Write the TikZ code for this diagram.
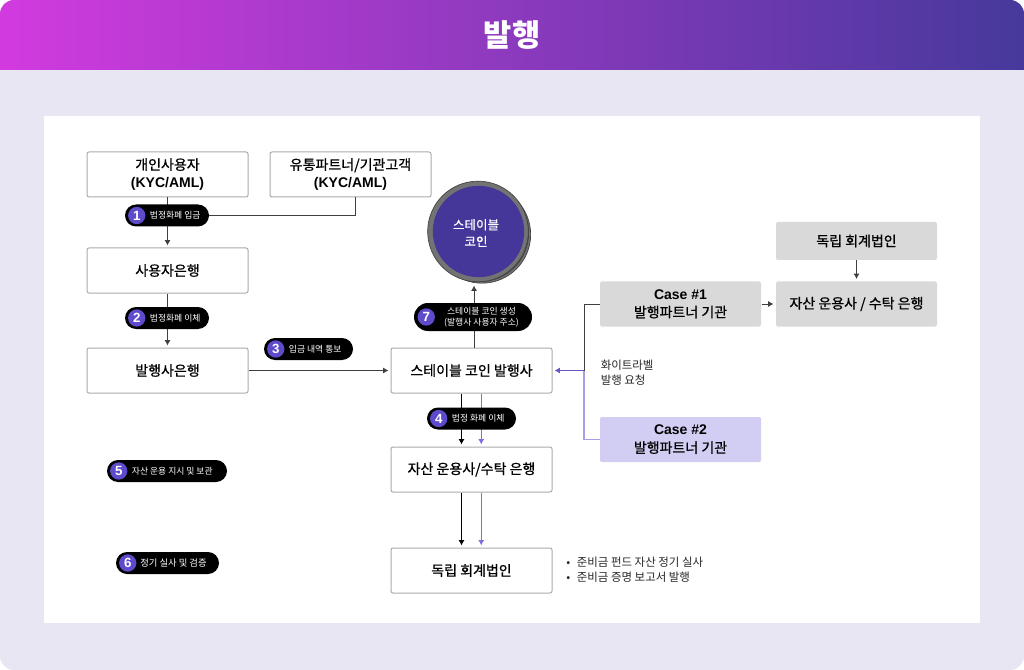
\documentclass[tikz,border=0pt]{standalone}
\usepackage{fontspec}
\setmainfont{Noto Sans CJK KR}
\newfontfamily\latinfont{Liberation Sans}
\usetikzlibrary{positioning,calc,arrows.meta}

\definecolor{panelbg}{HTML}{E8E6F3}
\definecolor{headl}{HTML}{D23ADF}
\definecolor{headm}{HTML}{8C35B6}
\definecolor{headr}{HTML}{46399C}
\definecolor{edge}{HTML}{ABABAB}
\definecolor{wire}{HTML}{3F3F3F}
\definecolor{violet}{HTML}{6A55C8}
\definecolor{lilac}{HTML}{A99EE6}
\definecolor{downline}{HTML}{7F6EE2}
\definecolor{casetwo}{HTML}{D2CDF2}
\definecolor{casegray}{HTML}{D9D9D9}
\definecolor{coinfill}{HTML}{453699}
\definecolor{numfill}{HTML}{5D4BCB}

\begin{document}
\begin{tikzpicture} [x=0.75pt, y=-0.75pt]
    \tikzstyle{box} = [draw=edge, line width=0.75pt, fill=white, rounded corners=1.5pt,
				minimum width=120.75pt, minimum height=33.75pt, inner sep=0pt,
				align=center, text=black, font=\fontsize{10.5}{13.5}\selectfont\addfontfeature{FakeBold=0.8}]
    \tikzstyle{graybox} = [box, draw=none, fill=casegray]
    \tikzstyle{pill} = [fill=black, rounded corners=8.25pt, minimum height=16.5pt, inner sep=0pt]
    \tikzstyle{num} = [circle, fill=numfill, text=white, minimum size=13pt, inner sep=0pt,
				font=\latinfont\fontsize{10}{10}\selectfont\bfseries]
    \tikzstyle{pilltext} = [text=white, inner sep=0pt, align=center,
				font=\fontsize{6.6}{8.2}\selectfont]
    \tikzstyle{note} = [inner sep=0pt, align=left, text=black!85,
				font=\fontsize{8.6}{11.25}\selectfont]
    \tikzstyle{disc} = [circle, draw=black!75, line width=0.5pt, fill=black!55, minimum size=73pt, inner sep=0pt]
    \tikzstyle{link} = [draw=wire, line width=0.75pt, -{Latex[length=4pt,width=4.5pt]}, shorten >=1.5pt]
    \tikzstyle{vlink} = [link, draw=downline, line width=0.9pt]

    \useasboundingbox (0,0) rectangle (1024,670);
    \fill[white] (0,0) rectangle (1024,670);
    \fill[panelbg, rounded corners=10.5pt] (0,0) rectangle (1024,670);
    \shade[left color=headl, middle color=headm, right color=headr]
        (0,70) -- (0,14) arc[start angle=180, end angle=90, radius=10.5pt] -- (1010,0)
        arc[start angle=90, end angle=0, radius=10.5pt] -- (1024,70) -- cycle;
    \fill[white] (44,116) rectangle (980,623);
    \node[text=white, inner sep=0pt, font=\fontsize{23}{23}\selectfont\bfseries] (title) at (512,35) {발행};

    % left column
    \node[box] (user) at (167.5,174.5) {개인사용자\\{\latinfont\bfseries (KYC/AML)}};
    \node[box] (partner) at (350.5,174.5) {유통파트너/기관고객\\{\latinfont\bfseries (KYC/AML)}};
    \node[box] (userbank) at (167.5,270.5) {사용자은행};
    \node[box] (issuerbank) at (167.5,370.5) {발행사은행};

    % middle column
    \node[box] (issuer) at (471.5,370.5) {스테이블 코인 발행사};
    \node[box] (custody) at (471.5,469.5) {자산 운용사/수탁 은행};
    \node[box] (audit) at (471.5,570.5) {독립 회계법인};

    % coin
    \node[disc] (coinback) at (482,234.5) {};
    \node[disc] (coinmid) at (480,233) {};
    \node[disc, minimum size=75.5pt] (coinfront) at (478,231.5) {};
    \node[circle, fill=coinfill, minimum size=68.5pt, inner sep=0pt] (coin) at (478.5,231.5) {};
    \node[text=white, inner sep=0pt, align=center,
				font=\fontsize{9.4}{12.5}\selectfont\addfontfeature{FakeBold=0.5}] (cointext) at (476,233) {스테이블\\코인};

    % right side
    \node[graybox] (case1) at (680.5,304) {{\latinfont\bfseries Case \#1}\\발행파트너 기관};
    \node[graybox, fill=casetwo] (case2) at (680.5,439.5) {{\latinfont\bfseries Case \#2}\\발행파트너 기관};
    \node[graybox, minimum height=28.5pt] (firm) at (856.5,241) {독립 회계법인};
    \node[graybox] (trust) at (856.5,304) {자산 운용사 / 수탁 은행};
    \node[note, anchor=west] (request) at (600.5,372.5) {화이트라벨\\발행 요청};
    \node[note, anchor=west] (reserve) at (566,569.5) {•\hspace{5pt}준비금 펀드 자산 정기 실사\\•\hspace{5pt}준비금 증명 보고서 발행};

    \draw[link] (user) -- (userbank);
    \draw[link] (userbank) -- (issuerbank);
    \draw[link] (issuerbank) -- (issuer);
    \draw[link] ([xshift=1.9pt]issuer.north) -- ([xshift=1.9pt]issuer.north |- coinback.south);
    \draw[link, draw=black] ([xshift=-7.5pt]issuer.south) -- ([xshift=-7.5pt]custody.north);
    \draw[vlink] ([xshift=7.3pt]issuer.south) -- ([xshift=7.3pt]custody.north);
    \draw[link, draw=black] ([xshift=-7.5pt]custody.south) -- ([xshift=-7.5pt]audit.north);
    \draw[vlink] ([xshift=7.3pt]custody.south) -- ([xshift=7.3pt]audit.north);
    \draw[link] (case1) -- (trust);
    \draw[link] (firm) -- (trust);

    % bus between the two cases
    \coordinate (bus) at (584,370.5);
    \draw[draw=wire, line width=0.75pt] (case1.west) -| (bus);
    \draw[draw=lilac, line width=1pt] (case2.west) -| (bus);
    \draw[link, draw=violet, line width=1pt] (bus) -- (issuer.east);

    % numbered labels
    \node[pill, minimum width=63pt] (pill1) at (167,215.5) {};
    \node[num] (num1) at ($(pill1.west)+(12,0)$) {1};
    \node[pilltext, right=3pt of num1] (text1) {법정화폐 입금};
    \node[pill, minimum width=63pt] (pill2) at (167,318) {};
    \node[num] (num2) at ($(pill2.west)+(12,0)$) {2};
    \node[pilltext, right=3pt of num2] (text2) {법정화폐 이체};
    \node[pill, minimum width=66.75pt] (pill3) at (308.5,349) {};
    \node[num] (num3) at ($(pill3.west)+(12,0)$) {3};
    \node[pilltext, right=3pt of num3] (text3) {입금 내역 통보};
    \node[pill, minimum width=66.75pt] (pill4) at (471.5,418.5) {};
    \node[num] (num4) at ($(pill4.west)+(12,0)$) {4};
    \node[pilltext, right=3pt of num4] (text4) {법정 화폐 이체};
    \node[pill, minimum width=90pt] (pill5) at (167,471) {};
    \node[num] (num5) at ($(pill5.west)+(12,0)$) {5};
    \node[pilltext, right=3pt of num5] (text5) {자산 운용 지시 및 보관};
    \node[pill, minimum width=77.25pt] (pill6) at (167.5,563) {};
    \node[num] (num6) at ($(pill6.west)+(12,0)$) {6};
    \node[pilltext, right=2.5pt of num6, font=\fontsize{7}{8.2}\selectfont] (text6) {정기 실사 및 검증};
    \node[pill, minimum width=88.5pt, minimum height=21pt, rounded corners=10.5pt] (pill7) at (473,317) {};
    \node[num] (num7) at ($(pill7.west)+(12.5,0)$) {7};
    \node[pilltext] (text7) at (481.5,317) {스테이블 코인 생성\\(발행사 사용자 주소)};

    \draw[draw=wire, line width=0.75pt] (partner.south -| 355,0) |- (pill1.east);
\end{tikzpicture}
\end{document}
